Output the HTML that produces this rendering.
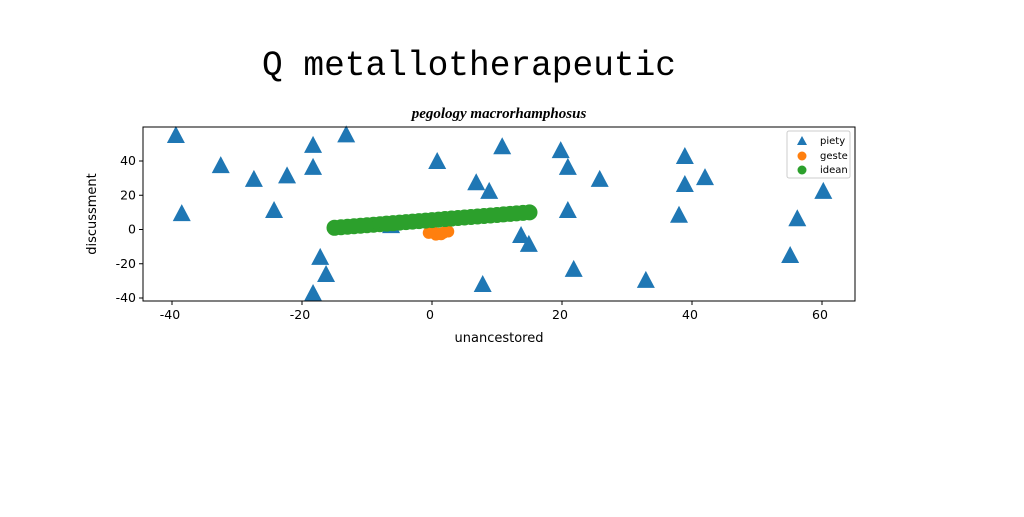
<!DOCTYPE html>
<html><head><meta charset="utf-8"><style>
body{margin:0;background:#fff;width:1024px;height:512px;overflow:hidden}
text{font-family:"DejaVu Sans","Liberation Sans",sans-serif}
</style></head><body>
<svg id="c" width="1024" height="512" xmlns="http://www.w3.org/2000/svg">
<text x="469" y="75" text-anchor="middle" font-size="35" textLength="414" lengthAdjust="spacingAndGlyphs" style="font-family:'Liberation Mono',monospace">Q metallotherapeutic</text>
<text x="499" y="118" text-anchor="middle" font-size="15" font-style="italic" font-weight="bold" style="font-family:'Liberation Serif',serif">pegology macrorhamphosus</text>
<g id="plot"></g>
</svg>
<script>
const pietyX=[-39.4,-38.5,-32.5,-27.4,-24.3,-22.3,-18.3,-18.3,-17.2,-16.3,-18.3,-13.2,-6.3,0.8,6.8,8.8,7.8,10.8,13.7,14.9,19.8,20.9,20.9,21.8,25.8,32.9,38,38.9,38.9,42,55.1,56.2,60.2];
const pietyY=[54.6,9,37,29,10.8,31,48.8,36,-16.6,-26.6,-37.7,55,2,39.4,27,22,-32.4,48,-3.8,-9,45.8,36,10.8,-23.6,29,-30,8,42.3,26,30,-15.5,6,22];
const gesteX=[-0.5,0.2,1,1.8,2.5,0.6,1.4];
const gesteY=[-2,-1.5,-2.5,-1.8,-1.2,-3,-2.8];
const ideanX=[-15,-14,-13,-12,-11,-10,-9,-8,-7,-6,-5,-4,-3,-2,-1,0,1,2,3,4,5,6,7,8,9,10,11,12,13,14,15];
const ideanY=[1,1.3,1.6,1.9,2.2,2.5,2.8,3.1,3.4,3.7,4,4.3,4.6,4.9,5.2,5.5,5.8,6.1,6.4,6.7,7,7.3,7.6,7.9,8.2,8.5,8.8,9.1,9.4,9.7,10];
const xTicks=[-40,-20,0,20,40,60];
const yTicks=[-40,-20,0,20,40];
const L=143,R=855,T=127,B=301;
const sx=v=>432+v*6.5, sy=v=>229.5-v*1.7125;
const NS="http://www.w3.org/2000/svg";
const g=document.getElementById('plot');
function mk(t,a,p){const e=document.createElementNS(NS,t);for(const k in a)e.setAttribute(k,a[k]);(p||g).appendChild(e);return e;}
for(let i=0;i<pietyX.length;i++){const x=sx(pietyX[i]),y=sy(pietyY[i]);
const e=mk('polygon',{points:`${x},${y-10} ${x-9},${y+7} ${x+9},${y+7}`,fill:'#1f77b4'});

}
for(let i=0;i<gesteX.length;i++){
const e=mk('circle',{cx:sx(gesteX[i]),cy:sy(gesteY[i]),r:6,fill:'#ff7f0e'});

}
for(let i=0;i<ideanX.length;i++){
const e=mk('circle',{cx:sx(ideanX[i]),cy:sy(ideanY[i]),r:8,fill:'#2ca02c'});

}
const fr=mk('rect',{x:L,y:T,width:R-L,height:B-T,fill:'none',stroke:'#000','stroke-width':1});


xTicks.forEach(v=>{const x=sx(v);mk('line',{x1:x,x2:x,y1:B,y2:B+4,stroke:'#000'});
const t=mk('text',{x:x-2,y:B+18,'text-anchor':'middle','font-size':12.5});t.textContent=v;

});
yTicks.forEach(v=>{const y=sy(v);mk('line',{x1:L-4,x2:L,y1:y,y2:y,stroke:'#000'});
const t=mk('text',{x:L-7,y:y+4,'text-anchor':'end','font-size':12.5});t.textContent=v;

});
const xl=mk('text',{x:499,y:342,'text-anchor':'middle','font-size':13});xl.textContent='unancestored';


const yl=mk('text',{x:96,y:214,'text-anchor':'middle','font-size':13,transform:'rotate(-90 96 214)'});yl.textContent='discussment';


const lg=mk('g',{});


mk('rect',{x:787,y:131,width:63,height:47,fill:'#fff',stroke:'#ccc',rx:2},lg);
mk('polygon',{points:'802,136 797,145 807,145',fill:'#1f77b4'},lg);
mk('circle',{cx:802,cy:156,r:4.5,fill:'#ff7f0e'},lg);
mk('circle',{cx:802,cy:170,r:4.5,fill:'#2ca02c'},lg);
[['piety',144],['geste',159],['idean',173]].forEach(([s,y])=>{const t=mk('text',{x:820,y:y,'font-size':10},lg);t.textContent=s;

});
</script>
</body></html>
